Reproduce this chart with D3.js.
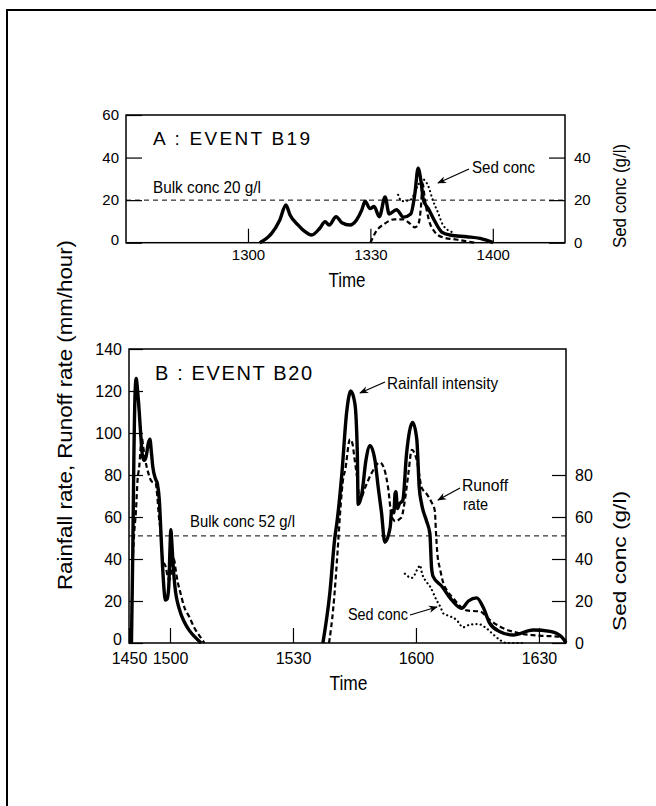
<!DOCTYPE html>
<html><head><meta charset="utf-8">
<script src="https://cdn.jsdelivr.net/npm/d3@7"></script>
<style>
html,body{margin:0;padding:0;background:#fff;}
svg{display:block;}
text{font-family:"Liberation Sans",Arial,Helvetica,sans-serif;fill:#000;}
.cond{font-family:"Liberation Sans Narrow","Liberation Sans",Arial,sans-serif;}
</style></head><body>
<svg id="chart" width="656" height="806"></svg>
<script>
// ---------- DATA (time in minutes after 12:00, values in mm/hour or g/l) ----------
const aTickValues = [60, 90, 120];
const aTickLabels = ["1300", "1330", "1400"];
const bTickValues = [170, 180, 210, 240, 270];
const bTickLabels = ["1450", "1500", "1530", "1600", "1630"];
const aLeftTicks = [0, 20, 40, 60];
const aRightTicks = [0, 20, 40];
const bLeftTicks = [0, 20, 40, 60, 80, 100, 120, 140];
const bRightTicks = [0, 20, 40, 60, 80];
const bulkA = 20;
const bulkB = 51;

const rainA = [[62.9,0],[64.5,2],[65.8,4.4],[67.8,10.7],[69.3,17.7],[70.3,13],[72.3,8.3],[74.0,5.2],[75.6,3.6],[77.6,6.8],[78.9,9.9],[79.9,8.3],[81.6,12.2],[83.0,9.4],[85.0,8.3],[86.6,10.7],[87.9,15.4],[88.7,19.5],[89.9,16],[90.9,17],[92.2,12.2],[93.6,21.5],[94.6,13.5],[96.4,15.5],[98.1,12],[99.9,13.5],[100.9,23],[101.7,35],[102.4,29],[103.0,20],[104.2,16],[105.8,10],[107.5,5],[109.5,3.6],[113.6,2.8],[116.9,2],[120.1,0]];
const runoffA = [[90.0,0],[90.5,2],[91.3,5],[93.4,8.8],[95.9,11],[98,11],[99.7,9],[100.9,7.2],[101.8,9],[102.4,17],[102.8,28],[103.3,21],[104.3,11],[105.8,5],[107.8,2.5],[111,1.5],[114,0.5],[115.5,0]];
const sedA = [[96.8,22.5],[97.7,19.5],[99.7,20],[101.7,27],[102.6,30],[104.1,27],[105.3,20],[106.6,14],[107.8,8.3],[110,5]];

const rainB1 = [[170.6,0],[170.9,40],[171.2,90],[171.5,120],[171.75,126],[172.1,120],[172.5,110],[172.9,98],[173.3,89],[173.7,87],[174.2,89],[174.7,95],[175.1,97],[175.5,90],[175.8,84],[176.5,78],[176.9,76],[177.4,68],[177.8,52],[178.2,36],[178.9,20.5],[179.3,21],[179.7,27],[180.0,45],[180.2,54],[180.5,46],[180.8,36],[181.2,27],[182.3,16],[183.5,10],[184.7,6],[186,3],[187.6,0]];
const rainB2 = [[217.3,0],[219.0,24],[220.2,50],[220.7,57],[221.9,80],[223.1,110],[224.1,120],[225.1,114],[225.7,90],[225.9,66],[226.8,71],[227.8,87],[228.8,94],[230.0,87],[230.8,74],[231.6,62],[232.4,48],[233.7,55],[234.1,63],[234.6,62],[234.9,71],[235.1,72],[235.5,64],[235.9,66],[236.8,68],[237.7,90],[239.2,105],[240.2,97],[240.8,74],[241.4,66],[242.6,58],[243.4,52],[243.8,36],[244.2,31.6],[246.3,27],[248.7,20.5],[251.1,16.5],[252.8,20],[254.8,21.5],[256.4,17],[258.0,9.4],[260.5,5.4],[263.7,3.8],[268.6,6.2],[272.7,5.5],[275.5,3],[276.6,0]];
const runoffB1 = [[170.6,0],[170.8,30],[171.2,50],[171.7,63],[172.1,78],[172.5,84],[172.8,92],[173.1,98],[173.5,93],[173.9,88],[174.7,81],[175.5,77],[176.5,76],[176.9,70],[177.3,60],[177.6,55],[178.2,40],[179.0,36],[179.5,31],[179.9,30],[180.4,36],[181.0,40],[181.3,36],[182.0,28],[182.4,25],[183.5,17],[184.7,12.5],[186.0,7],[187.0,4],[188.4,0]];
const runoffB2 = [[218.8,0],[219.8,16],[221.0,47],[221.5,62],[222.3,79],[222.7,82],[223.9,97],[224.5,95],[225.0,88],[225.7,78],[226.3,68],[227.6,74],[229.2,81],[231.2,86],[232.4,82],[233.2,74],[234.1,60],[235.0,58],[236.0,59],[236.5,60],[237.3,68],[238.1,80],[239.0,92],[240.2,87],[241.4,74],[242.6,71],[243.8,67],[244.6,63],[244.9,52],[245.2,43],[245.9,35],[246.7,28.4],[247.5,25.2],[249.1,21.3],[252.4,15.5],[255.6,15],[258.0,11],[261.3,7],[265.4,4.6],[270.2,3.5],[275.1,3],[276.6,1]];
const sedB = [[237.3,33],[239.0,31],[240.6,36],[241.0,37],[241.5,33],[242.6,29],[243.4,27],[245.0,20.5],[246.0,17],[246.7,14],[247.9,13],[249.9,11],[251.5,7.5],[253.2,8.8],[255.2,9],[257.2,7],[258.9,4],[260.5,1.4],[262.1,0],[266,0]];

// ---------- DRAWING ----------
const svg = d3.select("#chart");
svg.append("rect").attr("x",7).attr("y",10).attr("width",700).attr("height",850)
  .attr("fill","none").attr("stroke","#000").attr("stroke-width",2);

const defs = svg.append("defs");
defs.append("marker").attr("id","arr").attr("viewBox","0 0 10 10").attr("refX",9).attr("refY",5)
  .attr("markerWidth",9).attr("markerHeight",9).attr("orient","auto").attr("markerUnits","userSpaceOnUse")
  .append("path").attr("d","M0,1 L10,5 L0,9 L3,5 Z").attr("fill","#000");

function panel(cfg){
  const x = d3.scaleLinear().domain(cfg.xDomain).range([cfg.left, cfg.right]);
  const y = d3.scaleLinear().domain(cfg.yDomain).range([cfg.bottom, cfg.top]);
  const g = svg.append("g");
  const ax = g.append("g").attr("transform",`translate(0,${cfg.bottom})`)
    .call(d3.axisBottom(x).tickValues(cfg.xTicks).tickFormat((d,i)=>cfg.xLabels[i]).tickSize(-cfg.xTickLen).tickPadding(cfg.xPad));
  const ayl = g.append("g").attr("transform",`translate(${cfg.left},0)`)
    .call(d3.axisLeft(y).tickValues(cfg.leftTicks).tickSize(-cfg.yTickLen).tickPadding(7));
  const ayr = g.append("g").attr("transform",`translate(${cfg.right},0)`)
    .call(d3.axisRight(y).tickValues(cfg.rightTicks).tickSize(-cfg.yTickLen).tickPadding(9));
  [ax,ayl,ayr].forEach(a=>{
    a.select(".domain").remove();
    a.selectAll("line").attr("stroke","#000").attr("stroke-width",1.2);
    a.selectAll("text").attr("font-size",cfg.tickFont).attr("font-family","Liberation Sans, Arial, sans-serif").attr("fill","#000");
  });
  // lift the bottom-left "0" label slightly so it clears the time labels
  ayl.selectAll(".tick").filter(d=>d===0).select("text").attr("dy","0.1em");
  g.append("rect").attr("x",cfg.left).attr("y",cfg.top).attr("width",cfg.right-cfg.left).attr("height",cfg.bottom-cfg.top)
    .attr("fill","none").attr("stroke","#000").attr("stroke-width",1.5);
  g.append("line").attr("x1",cfg.left).attr("x2",cfg.right).attr("y1",y(cfg.bulk)).attr("y2",y(cfg.bulk))
    .attr("stroke","#000").attr("stroke-width",1).attr("stroke-dasharray","5,4");
  const line = d3.line().x(d=>x(d[0])).y(d=>y(d[1])).curve(d3.curveMonotoneX);
  cfg.sed.forEach(s=> g.append("path").attr("d",line(s)).attr("fill","none").attr("stroke","#000")
    .attr("stroke-width",2.2).attr("stroke-linecap","round").attr("stroke-dasharray","0.1,4.2"));
  cfg.runoff.forEach(s=> g.append("path").attr("d",line(s)).attr("fill","none").attr("stroke","#000")
    .attr("stroke-width",2.2).attr("stroke-dasharray","5,3"));
  cfg.rain.forEach(s=> g.append("path").attr("d",line(s)).attr("fill","none").attr("stroke","#000")
    .attr("stroke-width",3.4).attr("stroke-linejoin","round"));
  return {x,y,g};
}

const A = panel({xDomain:[30.1,137.7], yDomain:[0,60], left:126, right:565, top:115, bottom:242.7,
  xTicks:aTickValues, xLabels:aTickLabels, leftTicks:aLeftTicks, rightTicks:aRightTicks, xPad:7,
  xTickLen:14, yTickLen:16, tickFont:15, bulk:bulkA, rain:[rainA], runoff:[runoffA], sed:[sedA]});
const B = panel({xDomain:[170,276.6], yDomain:[0,140], left:129, right:566, top:349, bottom:643,
  xTicks:bTickValues, xLabels:bTickLabels, leftTicks:bLeftTicks, rightTicks:bRightTicks, xPad:10,
  xTickLen:15, yTickLen:14, tickFont:16, bulk:bulkB, rain:[rainB1,rainB2], runoff:[runoffB1,runoffB2], sed:[sedB]});

function txt(t,x,y,size,opts={}){
  const e = svg.append("text").attr("x",x).attr("y",y).attr("font-size",size).text(t);
  if(opts.cls) e.attr("class",opts.cls);
  if(opts.len) e.attr("textLength",opts.len).attr("lengthAdjust",opts.adj||"spacingAndGlyphs");
  if(opts.anchor) e.attr("text-anchor",opts.anchor);
  if(opts.rot!==undefined) e.attr("transform",`rotate(${opts.rot},${x},${y})`);
  return e;
}
function arrow(x1,y1,x2,y2){
  svg.append("line").attr("x1",x1).attr("y1",y1).attr("x2",x2).attr("y2",y2)
    .attr("stroke","#000").attr("stroke-width",1.3).attr("marker-end","url(#arr)");
}

txt("A :  EVENT B19",153,145,19,{len:157,adj:"spacing"});
txt("B :  EVENT B20",155,380,20,{len:157,adj:"spacing"});
txt("Time",347,287,20,{cls:"cond",anchor:"middle",len:37});
txt("Time",348.5,690,21,{cls:"cond",anchor:"middle",len:38});
txt("Rainfall rate, Runoff rate (mm/hour)",72,415,20,{cls:"cond",anchor:"middle",rot:-90,len:350});
txt("Sed conc (g/l)",626,196,18,{cls:"cond",anchor:"middle",rot:-90,len:104});
txt("Sed conc (g/l)",626,561,19,{cls:"cond",anchor:"middle",rot:-90,len:140});
txt("Bulk conc 20 g/l",153,193,17,{cls:"cond",len:108});
txt("Bulk conc 52 g/l",190,527,17,{cls:"cond",len:105});
txt("Sed conc",472,173,17,{cls:"cond",len:63});
arrow(469,169,438,183);
txt("Rainfall intensity",387,389,17,{cls:"cond",len:111});
arrow(385,382,360,393);
txt("Runoff",462,491,16,{cls:"cond",len:46});
txt("rate",463,510,16,{cls:"cond",len:25});
arrow(460,488,438,500);
txt("Sed conc",348,620,16,{cls:"cond",len:60});
arrow(410,615,437,607);
</script></body></html>
